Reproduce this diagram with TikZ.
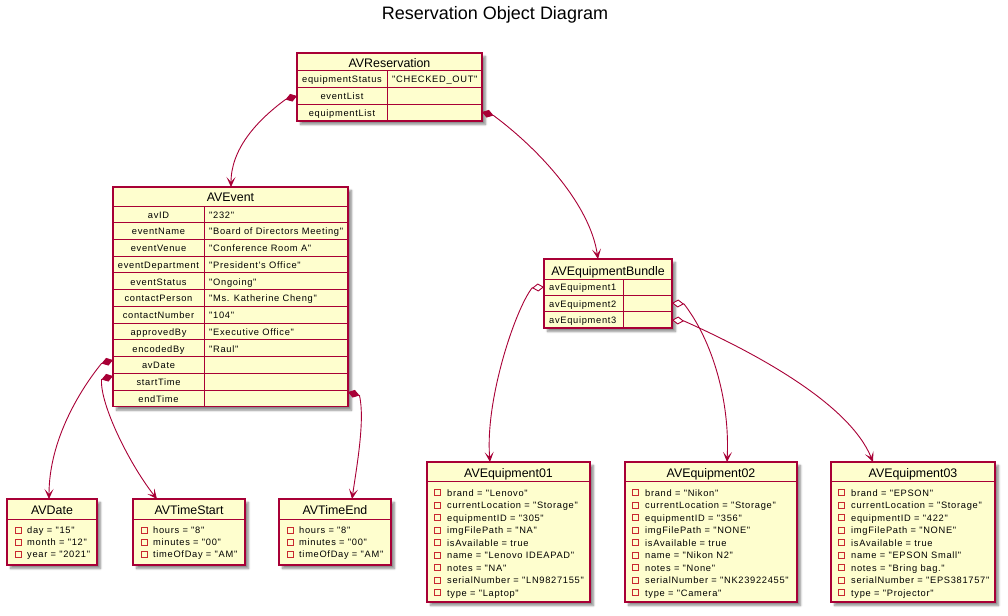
\documentclass[tikz,border=0pt]{standalone}
\usepackage{fontspec}
\setmainfont{Liberation Sans}
\newfontfamily\fldfont[LetterSpace=7.5]{Liberation Sans}
\usetikzlibrary{arrows.meta,shadows.blur}
\definecolor{boxfill}{HTML}{FEFECE}
\definecolor{boxline}{HTML}{A80036}
\definecolor{visred}{HTML}{C82930}
\tikzset{
  objbox/.style={draw=boxline, fill=boxfill, line width=1.2pt, inner sep=0pt, outer sep=0pt, anchor=north west,
    blur shadow={shadow xshift=3.5pt, shadow yshift=-3.5pt, shadow blur steps=6, shadow opacity=45}},
  hdr/.style={font=\fontsize{12.4}{14}\selectfont, inner sep=0pt, anchor=base},
  fld/.style={font=\fldfont\fontsize{9.3}{11}\selectfont, inner sep=0pt, anchor=base},
  fldw/.style={fld, anchor=base west},
  sep/.style={draw=boxline, line width=0.9pt},
  vis/.style={draw=visred, line width=0.8pt, fill=none, minimum size=6pt, inner sep=0pt, outer sep=0pt},
  conn/.style={draw=boxline, line width=0.9pt},
  comp/.style={conn, {Diamond[length=12pt,width=8pt]}-{Stealth[length=10pt,width=9pt,inset=5pt]}},
  aggr/.style={conn, {Diamond[open,fill=white,length=12pt,width=8pt]}-{Stealth[length=10pt,width=9pt,inset=5pt]}},
}
\begin{document}
\begin{tikzpicture}[x=1pt,y=-1pt]
\useasboundingbox (0,0) rectangle (1008,615);
\node[font=\fontsize{18}{20}\selectfont, inner sep=0pt, anchor=base] (title) at (495,19.5) {Reservation Object Diagram};

% ---------- AVReservation ----------
\node[objbox, minimum width=185pt, minimum height=68pt] (res) at (297,53) {};
\draw[sep] (297,70.7) -- (482,70.7);
\draw[sep] (387,70.7) -- (387,121);
\node[hdr] (res-h) at (389.5,67.3) {AVReservation};
\foreach \k/\v [count=\i from 0] in {equipmentStatus/"CHECKED\_OUT", eventList/{}, equipmentList/{}} {
  \pgfmathsetmacro\ya{70.7+16.77*\i}
  \pgfmathsetmacro\yb{70.7+16.77*(\i+1)}
  \ifnum\i>0 \draw[sep] (297,\ya) -- (482,\ya); \fi
  \node[fld] (res-k\i) at (342,{\yb-4.5}) {\k};
  \node[fldw] (res-v\i) at (392,{\yb-4.5}) {\v};
}

% ---------- AVEvent ----------
\node[objbox, minimum width=235pt, minimum height=219.7pt] (ev) at (113,187) {};
\draw[sep] (113,206) -- (348,206);
\draw[sep] (204,206) -- (204,406.7);
\node[hdr] (ev-h) at (230.5,201.8) {AVEvent};
\foreach \k/\v [count=\i from 0] in {avID/"232", eventName/"Board of Directors Meeting", eventVenue/"Conference Room A",
  eventDepartment/"President's Office", eventStatus/"Ongoing", contactPerson/"Ms. Katherine Cheng", contactNumber/"104",
  approvedBy/"Executive Office", encodedBy/"Raul", avDate/{}, startTime/{}, endTime/{}} {
  \pgfmathsetmacro\ya{206+16.725*\i}
  \pgfmathsetmacro\yb{206+16.725*(\i+1)}
  \ifnum\i>0 \draw[sep] (113,\ya) -- (348,\ya); \fi
  \node[fld] (ev-k\i) at (158.5,{\yb-4.5}) {\k};
  \node[fldw] (ev-v\i) at (209,{\yb-4.5}) {\v};
}

% ---------- AVEquipmentBundle ----------
\node[objbox, minimum width=128pt, minimum height=69pt] (bun) at (544,259) {};
\draw[sep] (544,279) -- (672,279);
\draw[sep] (623,279) -- (623,328);
\node[hdr] (bun-h) at (608,275) {AVEquipmentBundle};
\foreach \k [count=\i from 0] in {avEquipment1, avEquipment2, avEquipment3} {
  \pgfmathsetmacro\ya{279+16.33*\i}
  \pgfmathsetmacro\yb{279+16.33*(\i+1)}
  \ifnum\i>0 \draw[sep] (544,\ya) -- (672,\ya); \fi
  \node[fldw] (bun-k\i) at (549,{\yb-4.5}) {\k};
}

% ---------- small objects ----------
\foreach \nm/\xa/\xb/\ttl [count=\j] in {date/7/97/AVDate, tstart/133/245/AVTimeStart, tend/279/391/AVTimeEnd} {
  \pgfmathsetmacro\w{\xb-\xa}
  \node[objbox, minimum width=\w pt, minimum height=66pt] (\nm) at (\xa,499) {};
  \draw[sep] (\xa,519) -- (\xb,519);
  \node[hdr] (\nm-h) at ({(\xa+\xb)/2},514.5) {\ttl};
}
\foreach \t [count=\i from 0] in {day = "15", month = "12", year = "2021"} {
  \node[vis] (date-s\i) at (18,{530.5+12*\i}) {};
  \node[fldw] (date-t\i) at (27,{533.7+12*\i}) {\t};
}
\foreach \t [count=\i from 0] in {hours = "8", minutes = "00", timeOfDay = "AM"} {
  \node[vis] (tstart-s\i) at (144,{530.5+12*\i}) {};
  \node[fldw] (tstart-t\i) at (153,{533.7+12*\i}) {\t};
  \node[vis] (tend-s\i) at (290,{530.5+12*\i}) {};
  \node[fldw] (tend-t\i) at (299,{533.7+12*\i}) {\t};
}

% ---------- equipment objects ----------
\foreach \nm/\xa/\xb/\ttl in {eq1/427/590/AVEquipment01, eq2/625/797/AVEquipment02, eq3/831/995/AVEquipment03} {
  \pgfmathsetmacro\w{\xb-\xa}
  \node[objbox, minimum width=\w pt, minimum height=140pt] (\nm) at (\xa,462) {};
  \draw[sep] (\xa,481) -- (\xb,481);
  \node[hdr] (\nm-h) at ({(\xa+\xb)/2},477) {\ttl};
}
\foreach \t [count=\i from 0] in {brand = "Lenovo", currentLocation = "Storage", equipmentID = "305", imgFilePath = "NA",
  isAvailable = true, name = "Lenovo IDEAPAD", notes = "NA", serialNumber = "LN9827155", type = "Laptop"} {
  \node[vis] (eq1-s\i) at (437,{492.8+12.5*\i}) {};
  \node[fldw] (eq1-t\i) at (447,{496+12.5*\i}) {\t};
}
\foreach \t [count=\i from 0] in {brand = "Nikon", currentLocation = "Storage", equipmentID = "356", imgFilePath = "NONE",
  isAvailable = true, name = "Nikon N2", notes = "None", serialNumber = "NK23922455", type = "Camera"} {
  \node[vis] (eq2-s\i) at (635,{492.8+12.5*\i}) {};
  \node[fldw] (eq2-t\i) at (645,{496+12.5*\i}) {\t};
}
\foreach \t [count=\i from 0] in {brand = "EPSON", currentLocation = "Storage", equipmentID = "422", imgFilePath = "NONE",
  isAvailable = true, name = "EPSON Small", notes = "Bring bag.", serialNumber = "EPS381757", type = "Projector"} {
  \node[vis] (eq3-s\i) at (841,{492.8+12.5*\i}) {};
  \node[fldw] (eq3-t\i) at (851,{496+12.5*\i}) {\t};
}

% ---------- connector end points ----------
\coordinate (resEvL) at (297,96);
\coordinate (resEqL) at (482,112);
\coordinate (evTop) at (231,187);
\coordinate (bunTop) at (598,259);
\coordinate (evDate) at (113,360);
\coordinate (evStart) at (113,376);
\coordinate (evEnd) at (348,392);
\coordinate (dateTop) at (49,499);
\coordinate (tstartTop) at (157,499);
\coordinate (tendTop) at (352,499);
\coordinate (bun1) at (544,287);
\coordinate (bun2) at (672,303);
\coordinate (bun3) at (672,320);
\coordinate (eq1Top) at (490,462);
\coordinate (eq2Top) at (727,462);
\coordinate (eq3Top) at (873,462);

\draw[comp] (resEvL) -- ++(-11.5,3.5) .. controls (255,122) and (231,150) .. (evTop);
\draw[comp] (resEqL) -- ++(11.5,3.5) .. controls (540,150) and (590,205) .. (bunTop);
\draw[comp] (evDate) -- ++(-11.5,3.5) .. controls (80,390) and (49,440) .. (dateTop);
\draw[comp] (evStart) -- ++(-11.5,3.5) .. controls (100,405) and (130,465) .. (tstartTop);
\draw[comp] (evEnd) -- ++(11.5,3.5) .. controls (365,420) and (357,465) .. (tendTop);
\draw[aggr] (bun1) -- ++(-12,1) .. controls (515,310) and (485,400) .. (eq1Top);
\draw[aggr] (bun2) -- ++(12,1) .. controls (712,340) and (730,400) .. (eq2Top);
\draw[aggr] (bun3) -- ++(12,1) .. controls (760,355) and (850,405) .. (eq3Top);
\end{tikzpicture}
\end{document}
